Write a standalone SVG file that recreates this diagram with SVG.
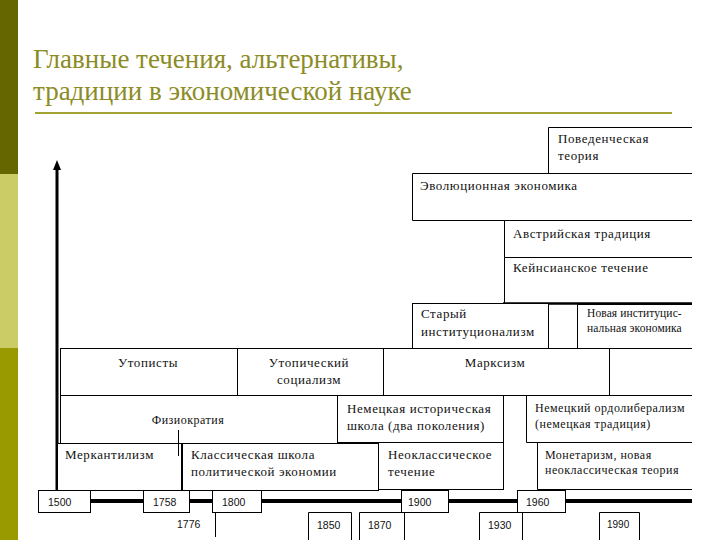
<svg xmlns="http://www.w3.org/2000/svg" width="720" height="540" viewBox="0 0 720 540">
<style>
.box{fill:#fff;stroke:#000;stroke-width:1}
.open{fill:#fff;stroke:#000;stroke-width:1}
.t{font-size:13px;letter-spacing:0.6px;fill:#111}
.ts{font-size:12px;letter-spacing:0.5px;fill:#111}
.tn{font-size:11.5px;letter-spacing:0.1px;fill:#111}
.y{font-family:'Liberation Sans',Arial,sans-serif;font-size:10.5px;fill:#111}
.title{font-size:27px;fill:#8c8c26}
.ln{stroke:#000;stroke-width:1;fill:none}
</style>
<rect width="720" height="540" fill="#fff"/>
<g id="sidebar">
<rect x="0" y="0" width="18" height="174" fill="#666600"/>
<rect x="0" y="174" width="18" height="174" fill="#cccc66"/>
<rect x="0" y="348" width="18" height="192" fill="#999900"/>
</g>
<g font-family="Liberation Serif, DejaVu Serif, serif">
<g id="title">
<text class="title" x="33" y="68">Главные течения, альтернативы,</text>
<text class="title" x="33" y="100">традиции в экономической науке</text>
<line x1="35" y1="113" x2="672" y2="113" stroke="#a3a334" stroke-width="2"/>
</g>
<g id="connectors">
<line x1="57" y1="490" x2="57" y2="168" stroke="#000" stroke-width="3"/>
<polygon points="57,160 53,170 61,170" fill="#000"/>
<line x1="90" y1="501" x2="692" y2="501" stroke="#000" stroke-width="4"/>
</g>
<g id="n-povedench"><path class="open" d="M692 127.5H548.5V173.5H692"/><text class="t" x="558" y="143">Поведенческая</text><text class="t" x="558" y="160">теория</text></g>
<g id="n-evol"><path class="open" d="M692 173.5H412.5V220.5H692"/><text class="t" x="420" y="190">Эволюционная экономика</text></g>
<g id="n-austr"><path class="open" d="M692 220.5H504.5V257.5H692"/><text class="t" x="513" y="238">Австрийская традиция</text></g>
<g id="n-keyn"><path class="open" d="M692 257.5H504.5V303.5"/><line x1="503" y1="303.5" x2="692" y2="303.5" stroke="#000" stroke-width="2.5"/><text class="t" x="513" y="272">Кейнсианское течение</text></g>
<g id="n-stary"><rect class="box" x="412.5" y="303.5" width="136" height="45"/><text class="t" x="421" y="318">Старый</text><text class="t" x="421" y="336">институционализм</text></g>
<g id="n-novaya"><path class="open" d="M692 304.5H577.5V348.5H692"/><text class="tn" x="587" y="317">Новая институцис-</text><text class="tn" x="587" y="332">нальная экономика</text></g>
<g id="n-utopisty"><rect class="box" x="60.5" y="348.5" width="177" height="47"/><text class="t" x="148" y="367" text-anchor="middle">Утописты</text></g>
<g id="n-utopsoc"><rect class="box" x="237.5" y="348.5" width="146" height="47"/><text class="t" x="309" y="367" text-anchor="middle">Утопический</text><text class="t" x="309" y="384" text-anchor="middle">социализм</text></g>
<g id="n-marx"><rect class="box" x="383.5" y="348.5" width="226" height="47"/><text class="t" x="495" y="367" text-anchor="middle">Марксизм</text></g>
<g id="n-physio"><rect class="box" x="60.5" y="395.5" width="277" height="48"/><text class="ts" x="188" y="424" text-anchor="middle">Физиократия</text></g>
<g id="n-germhist"><rect class="box" x="337.5" y="395.5" width="166" height="47"/><text class="t" x="347" y="413">Немецкая историческая</text><text class="t" x="347" y="430">школа (два поколения)</text></g>
<g id="n-ordolib"><path class="open" d="M692 395.5H526.5V442.5H692"/><text class="ts" x="535" y="412">Немецкий ордолиберализм</text><text class="ts" x="535" y="428">(немецкая традиция)</text></g>
<g id="n-mercant"><rect class="box" x="57.5" y="443.5" width="124" height="47"/><line class="ln" x1="178.5" y1="430" x2="178.5" y2="456"/><text class="t" x="65" y="459">Меркантилизм</text></g>
<g id="n-classic"><rect class="box" x="182.5" y="443.5" width="196" height="47"/><text class="t" x="191" y="459">Классическая школа</text><text class="t" x="191" y="476">политической экономии</text></g>
<g id="n-neoclass"><rect class="box" x="378.5" y="442.5" width="125" height="47"/><text class="t" x="388" y="459">Неоклассическое</text><text class="t" x="388" y="476">течение</text></g>
<g id="n-monetar"><path class="open" d="M692 442.5H537.5V489.5H692"/><text class="ts" x="545" y="459">Монетаризм, новая</text><text class="ts" x="545" y="474">неоклассическая теория</text></g>
</g>
<g id="years">
<g id="y1500"><rect class="box" x="38.5" y="490.5" width="52" height="22"/><text class="y" x="48" y="506">1500</text></g>
<g id="y1758"><rect class="box" x="143.5" y="490.5" width="46" height="22"/><text class="y" x="153" y="506">1758</text></g>
<g id="y1800"><rect class="box" x="212.5" y="490.5" width="49" height="22"/><text class="y" x="222" y="506">1800</text></g>
<g id="y1900"><rect class="box" x="401.5" y="490.5" width="47" height="22"/><text class="y" x="408" y="506">1900</text></g>
<g id="y1960"><rect class="box" x="517.5" y="490.5" width="48" height="22"/><text class="y" x="526" y="506">1960</text></g>
<g id="y1776"><line class="ln" x1="215.5" y1="512" x2="215.5" y2="537"/><text class="y" x="177" y="528">1776</text></g>
<g id="y1850"><path class="ln" d="M308.5 541V512.5H351.5V541"/><text class="y" x="317" y="529">1850</text></g>
<g id="y1870"><path class="ln" d="M359.5 541V512.5H404.5V541"/><text class="y" x="368" y="529">1870</text></g>
<g id="y1930"><path class="ln" d="M479.5 541V512.5H522.5V541"/><text class="y" x="488" y="529">1930</text></g>
<g id="y1990"><path class="ln" d="M599.5 541V512.5H639.5V541"/><text class="y" x="607" y="528" style="font-size:10px">1990</text></g>
</g>
</svg>
